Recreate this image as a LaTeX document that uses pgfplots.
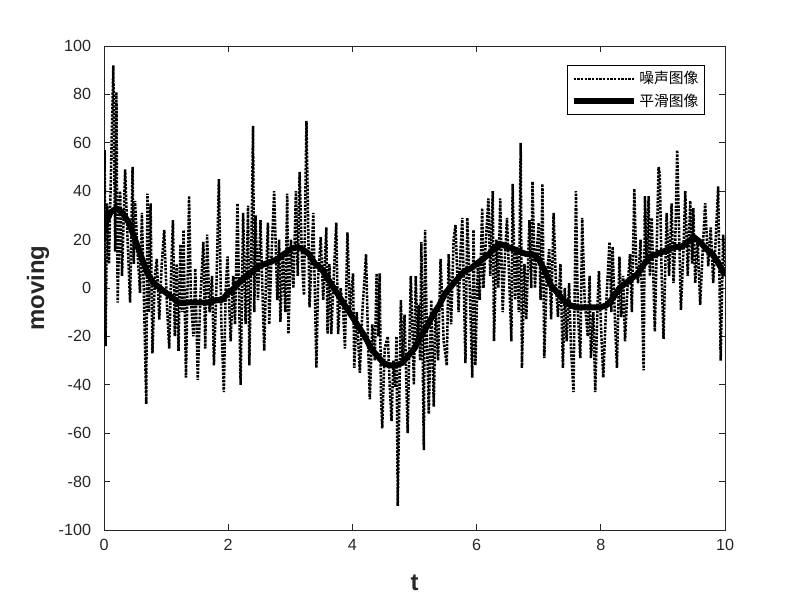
\documentclass[border=0pt]{standalone}
\usepackage{pgfplots}
\pgfplotsset{compat=1.18}
\usepackage{fontspec}
\setmainfont{Liberation Sans}
\newfontfamily\cjk{Noto Sans CJK SC}
\definecolor{axgray}{RGB}{38,38,38}

\begin{document}
\begin{tikzpicture}
\path[use as bounding box] (0,0) rectangle (20cm,15cm);
\begin{axis}[
    at={(2.6cm,1.75cm)}, anchor=south west,
    scale only axis,
    width=15.525cm, height=12.1cm,
    xmin=0, xmax=10, ymin=-100, ymax=100,
    xtick={0,2,...,10},
    ytick={-100,-80,...,100},
    tick align=inside,
    major tick length=0.15cm,
    axis line style={axgray, line width=0.5pt},
    every tick/.style={axgray, line width=0.5pt},
    tick label style={font=\fontsize{11.5}{13}\selectfont, text=axgray},
    yticklabel style={xshift=-0.2cm},
    xticklabel style={yshift=-0.1cm},
    /pgf/number format/assume math mode=true,
    xlabel={t}, ylabel={moving},
    label style={font=\fontsize{17}{20}\selectfont\bfseries, text=axgray},
    xlabel style={at={(axis description cs:0.5,-0.1095)}, anchor=center},
    ylabel style={at={(axis description cs:-0.1063,0.5)}, anchor=center},
    legend style={at={(axis description cs:0.968,0.961)}, anchor=north east,
        font=\cjk\fontsize{10.5}{12.5}\selectfont, draw=black, line width=0.5pt,
        inner sep=2.5pt, row sep=1.5pt, cells={anchor=west}},
    legend image code/.code={\draw[#1] (0cm,0cm) -- (1.5cm,0cm);},
]
\addplot[black, line width=1.8pt, dash pattern=on 1.7pt off 0.9pt] coordinates {
(0.00,20) (0.01,57) (0.025,-24) (0.05,35) (0.08,10) (0.11,45) (0.15,92) (0.18,15)
(0.20,81) (0.22,-6) (0.26,40) (0.29,5) (0.34,49) (0.38,20) (0.42,-6) (0.46,50)
(0.48,10) (0.50,36) (0.54,15) (0.58,-2) (0.61,31) (0.64,0) (0.68,-48) (0.70,39)
(0.72,-10) (0.75,35) (0.78,-27) (0.82,5) (0.85,12) (0.89,-13) (0.93,10) (0.97,24)
(1.01,-5) (1.05,-25) (1.08,5) (1.11,28) (1.14,-20) (1.17,10) (1.20,-26) (1.23,18)
(1.26,-10) (1.28,24) (1.32,-37) (1.37,38) (1.40,-5) (1.44,-20) (1.47,8) (1.51,-38)
(1.55,-5) (1.60,19) (1.63,-25) (1.66,22) (1.70,-10) (1.74,5) (1.77,-32) (1.81,0)
(1.85,45) (1.89,-15) (1.93,-43) (1.96,0) (1.99,13) (2.02,-10) (2.04,-22) (2.08,5)
(2.11,-15) (2.15,35) (2.20,-40) (2.24,31) (2.28,-15) (2.32,34) (2.34,-32) (2.37,10)
(2.40,67) (2.42,-10) (2.44,30) (2.48,-5) (2.52,28) (2.55,0) (2.58,-26) (2.61,5)
(2.64,27) (2.66,-15) (2.70,15) (2.74,40) (2.79,-5) (2.82,20) (2.84,-14) (2.88,15)
(2.92,-10) (2.95,39) (2.97,-19) (3.01,20) (3.05,0) (3.09,40) (3.12,5) (3.15,48)
(3.19,10) (3.22,-3) (3.26,69) (3.31,-8) (3.34,10) (3.37,31) (3.42,-33) (3.45,5)
(3.49,21) (3.53,-5) (3.58,25) (3.60,-19) (3.63,10) (3.66,-19) (3.70,5) (3.74,27)
(3.77,-19) (3.81,0) (3.85,-9) (3.88,-25) (3.92,23) (3.96,-10) (4.01,6) (4.03,-33)
(4.07,-10) (4.12,-35) (4.16,-10) (4.22,14) (4.25,-20) (4.28,-46) (4.32,-15) (4.36,-30)
(4.39,6) (4.42,-20) (4.44,6) (4.46,-44) (4.48,-58) (4.52,-25) (4.57,-20) (4.60,-40)
(4.63,-55) (4.66,-30) (4.69,-41) (4.71,-20) (4.73,-90) (4.78,-5) (4.81,-30) (4.84,-11)
(4.89,-60) (4.94,5) (4.97,-20) (4.99,-40) (5.02,5) (5.05,-22) (5.07,-7) (5.09,-30)
(5.11,19) (5.15,-67) (5.17,24) (5.20,-20) (5.23,-52) (5.27,-5) (5.31,-49) (5.34,-8)
(5.38,-30) (5.42,12) (5.47,-22) (5.52,-32) (5.55,14) (5.59,-15) (5.63,20) (5.66,26)
(5.71,-10) (5.74,15) (5.77,29) (5.82,-31) (5.85,29) (5.89,0) (5.93,-37) (5.95,24)
(5.98,-32) (6.02,10) (6.05,-5) (6.09,33) (6.11,0) (6.15,20) (6.19,37) (6.22,5)
(6.26,40) (6.28,-22) (6.32,20) (6.35,0) (6.38,37) (6.42,-10) (6.46,15) (6.49,29)
(6.53,0) (6.56,-22) (6.58,43) (6.62,-5) (6.65,17) (6.68,-10) (6.71,60) (6.73,-33)
(6.77,10) (6.80,-13) (6.85,28) (6.88,0) (6.90,44) (6.94,0) (6.97,15) (7.00,27)
(7.03,-5) (7.06,43) (7.09,-29) (7.13,5) (7.17,16) (7.20,-13) (7.24,31) (7.28,0)
(7.31,-12) (7.35,10) (7.39,-33) (7.42,0) (7.45,-22) (7.49,2) (7.52,-25) (7.56,-43)
(7.60,40) (7.63,-10) (7.67,-29) (7.70,29) (7.74,-5) (7.79,-20) (7.82,5) (7.84,-29)
(7.88,-10) (7.91,-43) (7.95,-5) (7.97,7) (8.01,-20) (8.04,-37) (8.09,-5) (8.14,19)
(8.17,-10) (8.19,17) (8.23,-15) (8.26,-33) (8.30,13) (8.33,-12) (8.36,5) (8.39,-22)
(8.43,0) (8.47,14) (8.50,-10) (8.54,41) (8.57,10) (8.60,2) (8.64,20) (8.69,-34)
(8.71,38) (8.74,10) (8.77,38) (8.79,5) (8.82,29) (8.87,-18) (8.93,50) (8.95,47)
(8.98,5) (9.01,-21) (9.06,31) (9.10,5) (9.14,35) (9.17,2) (9.20,20) (9.23,57)
(9.29,-9) (9.33,15) (9.36,40) (9.40,5) (9.44,36) (9.47,10) (9.49,33) (9.52,2)
(9.56,20) (9.60,-7) (9.64,15) (9.68,35) (9.73,9) (9.77,25) (9.81,2) (9.85,20)
(9.89,42) (9.93,-30) (9.97,22) (10.00,8)
};
\addlegendentry{噪声图像}
\addplot[black, line width=4.2pt, line join=round] coordinates {
(0.0,25) (0.1,31) (0.2,33) (0.3,31) (0.4,27) (0.5,20) (0.6,13) (0.7,6) (0.8,2) (0.9,0)
(1.0,-2) (1.1,-4) (1.2,-6) (1.3,-6) (1.4,-6) (1.5,-6) (1.6,-6) (1.7,-6) (1.8,-5) (1.9,-5)
(2.0,-2) (2.1,0) (2.2,3) (2.3,5) (2.4,7) (2.5,9) (2.6,10) (2.7,11) (2.8,12) (2.9,14)
(3.0,16) (3.1,17) (3.2,16) (3.3,14) (3.4,10) (3.5,8) (3.6,4) (3.7,0) (3.8,-4) (3.9,-8)
(4.0,-12) (4.1,-16) (4.2,-20) (4.3,-25) (4.4,-28) (4.5,-31) (4.6,-32) (4.7,-32) (4.8,-31) (4.9,-28)
(5.0,-25) (5.1,-20) (5.2,-16) (5.3,-11) (5.4,-7) (5.5,-2) (5.6,1) (5.7,4) (5.8,7) (5.9,8)
(6.0,10) (6.1,12) (6.2,14) (6.3,17) (6.4,18) (6.5,17) (6.6,16) (6.7,15) (6.8,14) (6.9,14)
(7.0,12) (7.1,7) (7.2,1) (7.3,-2) (7.4,-5) (7.5,-7) (7.6,-8) (7.7,-8) (7.8,-8) (7.9,-8)
(8.0,-8) (8.1,-7) (8.2,-4) (8.3,0) (8.4,2) (8.5,4) (8.6,6) (8.7,10) (8.8,13) (8.9,14)
(9.0,15) (9.1,16) (9.2,17) (9.3,17) (9.4,19) (9.5,21) (9.6,19) (9.7,16) (9.8,14) (9.9,10)
(10.0,5)
};
\addlegendentry{平滑图像}
\end{axis}
\end{tikzpicture}
\end{document}
